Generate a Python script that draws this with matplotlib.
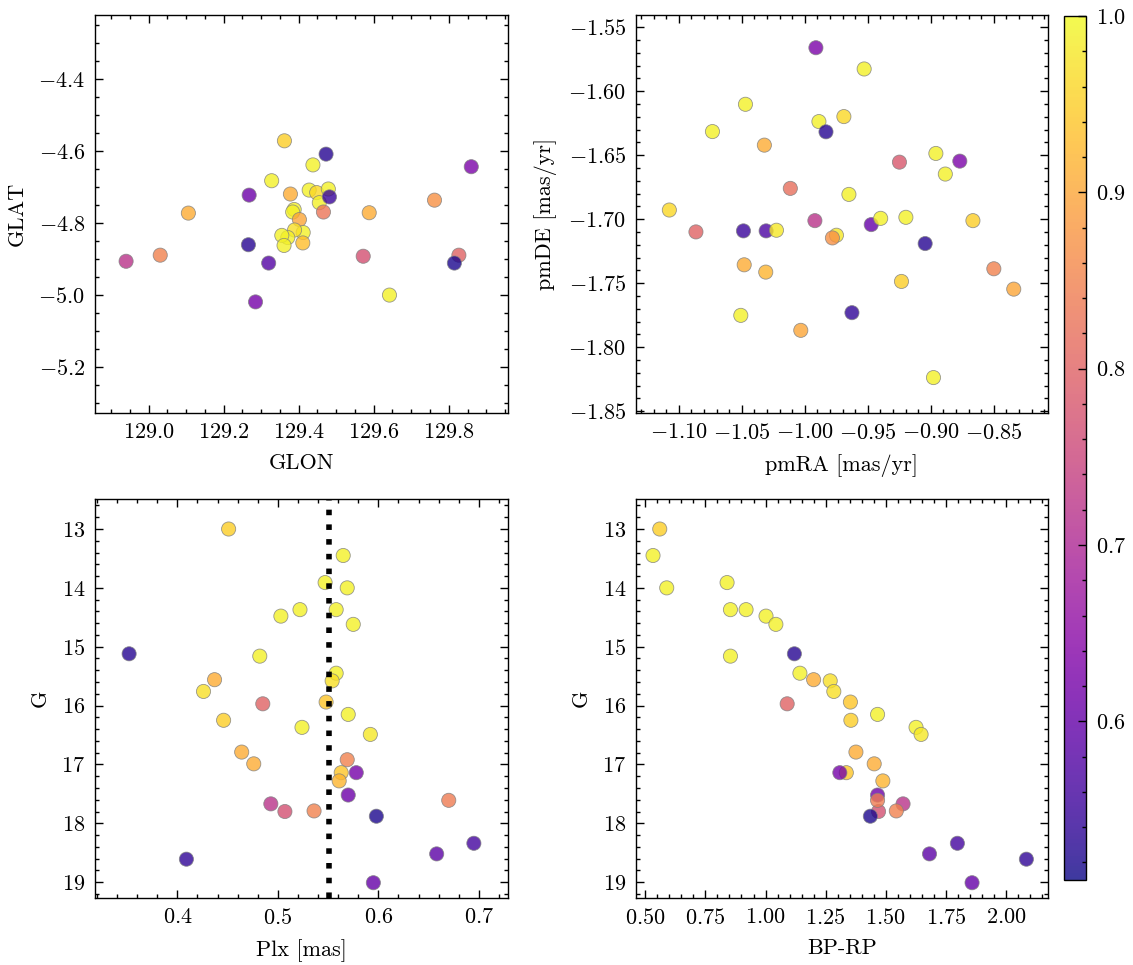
import numpy as np
import matplotlib
matplotlib.use("Agg")
import matplotlib.pyplot as plt
from matplotlib.ticker import MultipleLocator

# science-like style
plt.rcParams.update({
    "font.family": "serif",
    "font.serif": ["cmr10"],
    "mathtext.fontset": "cm",
    "axes.formatter.use_mathtext": True,
    "font.size": 8,
    "axes.linewidth": 0.5,
    "xtick.direction": "in",
    "ytick.direction": "in",
    "xtick.top": True,
    "ytick.right": True,
    "xtick.minor.visible": True,
    "ytick.minor.visible": True,
    "xtick.major.size": 3,
    "ytick.major.size": 3,
    "xtick.minor.size": 1.5,
    "ytick.minor.size": 1.5,
    "xtick.major.width": 0.5,
    "ytick.major.width": 0.5,
    "xtick.minor.width": 0.5,
    "ytick.minor.width": 0.5,
})

# positions (GLON / GLAT) and membership probability
glon = [128.940, 129.031, 129.106, 129.268, 129.266, 129.320, 129.285, 129.362,
        129.328, 129.378, 129.388, 129.384, 129.402, 129.412, 129.389, 129.371,
        129.355, 129.361, 129.411, 129.438, 129.473, 129.428, 129.448, 129.479,
        129.455, 129.482, 129.466, 129.588, 129.572, 129.642, 129.762, 129.827,
        129.815, 129.860]
glat = [-4.906, -4.889, -4.772, -4.722, -4.860, -4.911, -5.019, -4.571,
        -4.682, -4.719, -4.762, -4.769, -4.790, -4.826, -4.819, -4.840,
        -4.834, -4.862, -4.855, -4.638, -4.608, -4.708, -4.715, -4.705,
        -4.743, -4.727, -4.769, -4.771, -4.892, -5.000, -4.736, -4.889,
        -4.911, -4.643]
prob_pos = [0.72, 0.85, 0.91, 0.61, 0.53, 0.58, 0.62, 0.95,
            0.99, 0.91, 0.99, 0.99, 0.90, 0.99, 0.97, 0.99,
            0.99, 0.99, 0.93, 0.99, 0.53, 0.99, 0.96, 0.99,
            0.99, 0.55, 0.83, 0.91, 0.77, 0.99, 0.87, 0.80,
            0.52, 0.63]

# proper motions
pmra = [-1.1075, -1.0864, -1.0733, -1.0471, -1.0321, -1.0487, -1.0307, -1.0225,
        -1.0481, -1.0310, -1.0508, -1.0115, -1.0032, -0.9912, -0.9888, -0.9832,
        -0.9920, -0.9749, -0.9781, -0.9690, -0.9650, -0.9626, -0.9529, -0.9473,
        -0.9398, -0.9249, -0.9198, -0.9233, -0.9045, -0.8960, -0.8885, -0.8770,
        -0.8666, -0.8979, -0.8500, -0.8342]
pmde = [-1.6929, -1.7100, -1.6316, -1.6103, -1.6422, -1.7092, -1.7092, -1.7087,
        -1.7357, -1.7414, -1.7752, -1.6760, -1.7869, -1.5661, -1.6238, -1.6318,
        -1.7012, -1.7126, -1.7147, -1.6199, -1.6807, -1.7731, -1.5827, -1.7043,
        -1.6994, -1.6555, -1.6986, -1.7487, -1.7191, -1.6487, -1.6648, -1.6547,
        -1.7012, -1.8238, -1.7388, -1.7547]
prob_pm = [0.96, 0.80, 0.99, 0.99, 0.91, 0.55, 0.57, 0.98,
           0.91, 0.92, 0.99, 0.82, 0.90, 0.63, 0.99, 0.53,
           0.72, 0.98, 0.87, 0.96, 0.99, 0.54, 0.99, 0.60,
           0.99, 0.78, 0.99, 0.95, 0.53, 0.99, 0.99, 0.63,
           0.95, 0.99, 0.85, 0.90]

# photometry + parallax
plx = [0.451, 0.565, 0.547, 0.569, 0.522, 0.558, 0.503, 0.575, 0.352, 0.482,
       0.558, 0.554, 0.437, 0.426, 0.485, 0.548, 0.570, 0.446, 0.524, 0.592,
       0.464, 0.476, 0.569, 0.563, 0.561, 0.578, 0.570, 0.493, 0.507, 0.536,
       0.598, 0.670, 0.409, 0.658, 0.695, 0.595]
gmag = [13.00, 13.45, 13.91, 14.00, 14.37, 14.37, 14.48, 14.62, 15.12, 15.16,
        15.45, 15.58, 15.56, 15.76, 15.97, 15.94, 16.15, 16.25, 16.37, 16.49,
        16.79, 16.99, 16.92, 17.14, 17.28, 17.14, 17.52, 17.67, 17.80, 17.79,
        17.88, 17.61, 18.61, 18.52, 18.34, 19.01]
bprp = [0.560, 0.532, 0.840, 0.589, 0.854, 0.919, 1.002, 1.043, 1.120, 0.854,
        1.143, 1.269, 1.200, 1.284, 1.090, 1.353, 1.466, 1.355, 1.626, 1.647,
        1.376, 1.452, np.nan, 1.336, 1.488, 1.309, 1.466, 1.572, 1.470, 1.544,
        1.436, 1.466, 2.085, 1.682, 1.798, 1.859]
prob_phot = [0.95, 0.99, 0.99, 0.99, 0.99, 0.99, 0.99, 0.99, 0.53, 0.99,
             0.99, 0.97, 0.91, 0.97, 0.80, 0.94, 0.99, 0.95, 0.99, 0.98,
             0.91, 0.91, 0.85, 0.94, 0.92, 0.62, 0.61, 0.72, 0.77, 0.85,
             0.52, 0.84, 0.54, 0.59, 0.56, 0.60]

plx_median = 0.551
vmin, vmax = 0.51, 1.0

fig = plt.figure(figsize=(5.665, 4.825), dpi=200)
ax1 = fig.add_axes([0.0838, 0.5720, 0.3646, 0.4125])
ax2 = fig.add_axes([0.5613, 0.5720, 0.3637, 0.4125])
ax3 = fig.add_axes([0.0838, 0.0694, 0.3646, 0.4135])
ax4 = fig.add_axes([0.5613, 0.0694, 0.3637, 0.4135])
cax = fig.add_axes([0.9390, 0.0881, 0.0195, 0.8953])

kw = dict(cmap="plasma", vmin=vmin, vmax=vmax, s=26, alpha=0.8,
          edgecolors="gray", linewidths=0.3)

sc = ax1.scatter(glon, glat, c=prob_pos, **kw)
ax1.set_xlim(128.857, 129.958)
ax1.set_ylim(-5.328, -4.221)
ax1.set_xlabel("GLON")
ax1.set_ylabel("GLAT")

ax2.scatter(pmra, pmde, c=prob_pm, **kw)
ax2.set_xlim(-1.134, -0.807)
ax2.set_ylim(-1.8515, -1.5405)
ax2.xaxis.set_major_locator(MultipleLocator(0.05))
ax2.set_xlabel("pmRA [mas/yr]")
ax2.set_ylabel("pmDE [mas/yr]")

ax3.scatter(plx, gmag, c=prob_phot, **kw)
ax3.axvline(plx_median, color="k", ls=":", lw=2)
ax3.set_xlim(0.318, 0.729)
ax3.set_ylim(19.27, 12.49)
ax3.set_xlabel("Plx [mas]")
ax3.set_ylabel("G")

ax4.scatter(bprp, gmag, c=prob_phot, **kw)
ax4.set_xlim(0.461, 2.175)
ax4.set_ylim(19.27, 12.49)
ax4.xaxis.set_major_locator(MultipleLocator(0.25))
ax4.set_xlabel("BP-RP")
ax4.set_ylabel("G")

cb = fig.colorbar(sc, cax=cax)
cb.outline.set_linewidth(0.5)
cb.ax.tick_params(direction="in", width=0.5)
cb.minorticks_on()

fig.savefig("out.png", dpi=200)
